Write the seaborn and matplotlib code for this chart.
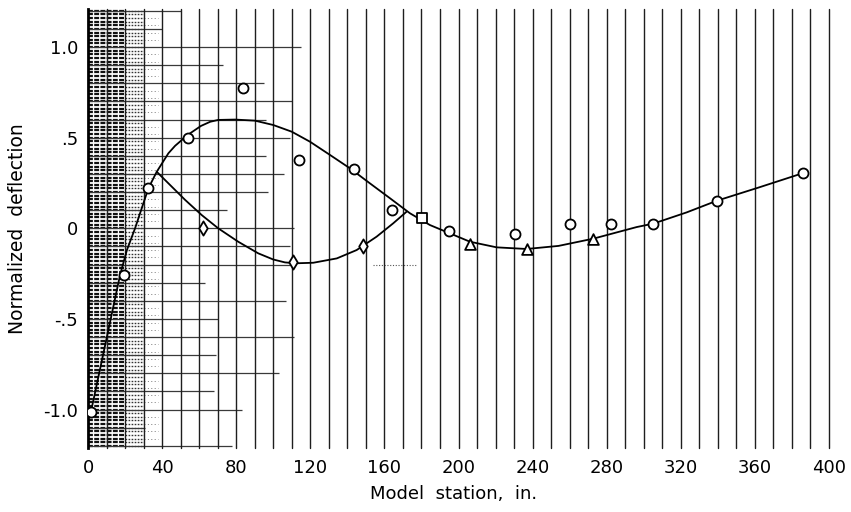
import numpy as np
import pandas as pd
import matplotlib
matplotlib.use("Agg")
import matplotlib.pyplot as plt
import seaborn as sns

# Faired curve through the measured deflections
main_x = [1.6, 17.3, 21.0, 25.4, 32.6, 37.1, 43.4, 47.0, 53.8, 61.0, 66.0,
          70.3, 79.4, 90.1, 100.0, 110.0, 119.8, 130.6, 141.4, 152.2, 163.0,
          173.8, 184.6, 195.4, 206.2, 220.6, 236.8, 254.0, 272.8, 296.2,
          305.2, 323.2, 339.4, 362.0, 385.8]
main_y = [-1.012, -0.258, -0.12, 0.0, 0.221, 0.312, 0.414, 0.455, 0.515,
          0.565, 0.588, 0.598, 0.60, 0.594, 0.57, 0.533, 0.478, 0.405, 0.331,
          0.248, 0.166, 0.083, 0.018, -0.028, -0.074, -0.105, -0.114, -0.097,
          -0.057, 0.007, 0.026, 0.088, 0.152, 0.225, 0.304]

# Second branch leaving the main curve near station 37
branch_x = [37.1, 52.4, 61.4, 70.3, 81.1, 91.9, 100.0, 106.3, 112.0, 121.6,
            134.3, 145.0, 155.8, 164.8, 172.0]
branch_y = [0.312, 0.157, 0.073, 0.0, -0.074, -0.138, -0.172, -0.188, -0.193,
            -0.19, -0.166, -0.12, -0.046, 0.028, 0.092]

# Measured points
circle_x = [1.6, 19.6, 32.6, 53.8, 83.8, 114.1, 143.6, 164.1, 194.7, 230.5,
            260.2, 282.2, 305.2, 339.4, 385.8]
circle_y = [-1.012, -0.26, 0.221, 0.50, 0.772, 0.376, 0.326, 0.10, -0.015,
            -0.03, 0.026, 0.026, 0.024, 0.153, 0.304]
square_x = [180.1]
square_y = [0.055]
diamond_x = [62.2, 110.5, 148.6]
diamond_y = [0.0, -0.185, -0.097]
triangle_x = [206.2, 236.8, 272.8]
triangle_y = [-0.085, -0.115, -0.058]

x_ticks = [0, 40, 80, 120, 160, 200, 240, 280, 320, 360, 400]
y_ticks = [-1.0, -0.5, 0.0, 0.5, 1.0]
y_tick_labels = ["-1.0", "-.5", "0", ".5", "1.0"]

sns.set_style("white")
plt.rcParams["font.family"] = ["DejaVu Sans"]
plt.rcParams["text.color"] = "black"
plt.rcParams["axes.labelcolor"] = "black"

fig = plt.figure(figsize=(8.51, 5.12), dpi=100)
ax = fig.add_axes([88 / 851, 64 / 512, 741 / 851, 439 / 512])
ax.set_xlim(0, 400)
ax.set_ylim(-1.212, 1.21)

# Graph-paper background: fine ruling at the left, coarse grid elsewhere
fine_rows = np.arange(-1.2, 1.2001, 0.02)
ax.hlines(fine_rows, 0, 20, colors="#111111", lw=1.6,
          linestyles=[(0, (2.2, 0.6))], zorder=0.5)
ax.hlines(fine_rows, 20, 30, colors="#333333", lw=1.0,
          linestyles=[(0, (1.2, 1.0))], zorder=0.5)
ax.hlines(fine_rows[::2], 30, 38, colors="#777777", lw=0.7,
          linestyles=[(0, (1, 2.5))], zorder=0.5)

grid_levels = np.round(np.arange(-1.2, 1.2001, 0.1), 1)
grid_reach = [78, 31, 83, 68, 103, 69, 111, 70, 107, 63, 109, 109, 111, 75,
              97, 106, 96, 109, 96, 110, 95, 73, 115, 40, 50]
for level, reach in zip(grid_levels, grid_reach):
    ax.hlines(level, 0, reach, colors="#3a3a3a", lw=0.9, zorder=0.6)
ax.hlines(-0.2, 154, 177, colors="#555555", lw=0.8,
          linestyles=[(0, (1, 1.5))], zorder=0.6)

for gx in np.arange(10, 401, 10):
    ax.axvline(gx, color="#1e1e1e", lw=1.0, zorder=0.7, clip_on=False)

# Faired curves
sns.lineplot(data=pd.DataFrame({"x": main_x, "y": main_y}), x="x", y="y",
             sort=False, estimator=None, color="black", lw=1.3, ax=ax,
             zorder=3)
sns.lineplot(data=pd.DataFrame({"x": branch_x, "y": branch_y}), x="x", y="y",
             sort=False, estimator=None, color="black", lw=1.3, ax=ax,
             zorder=3)

# Open symbols for the measurements
marker_kw = dict(color="white", edgecolor="black", linewidth=1.3, zorder=5,
                 ax=ax, legend=False)
sns.scatterplot(x=circle_x, y=circle_y, marker="o", s=52, **marker_kw)
sns.scatterplot(x=square_x, y=square_y, marker="s", s=42, **marker_kw)
sns.scatterplot(x=diamond_x, y=diamond_y, marker="d", s=52, **marker_kw)
sns.scatterplot(x=triangle_x, y=triangle_y, marker="^", s=60, **marker_kw)

for side in ["top", "right", "bottom"]:
    ax.spines[side].set_visible(False)
ax.spines["left"].set_color("black")
ax.spines["left"].set_linewidth(2.0)

ax.set_xticks(x_ticks)
ax.set_xticklabels([str(t) for t in x_ticks])
ax.set_yticks(y_ticks)
ax.set_yticklabels(y_tick_labels)
ax.tick_params(axis="both", length=0, labelsize=13, colors="black")
ax.tick_params(axis="x", pad=8)
ax.tick_params(axis="y", pad=7)

ax.set_xlabel("Model  station,  in.", fontsize=13)
ax.set_ylabel("Normalized  deflection", fontsize=13.5)
ax.xaxis.set_label_coords(0.494, -0.085)
ax.yaxis.set_label_coords(-0.082, 0.5)

fig.savefig("out.png", dpi=100, facecolor="white")
